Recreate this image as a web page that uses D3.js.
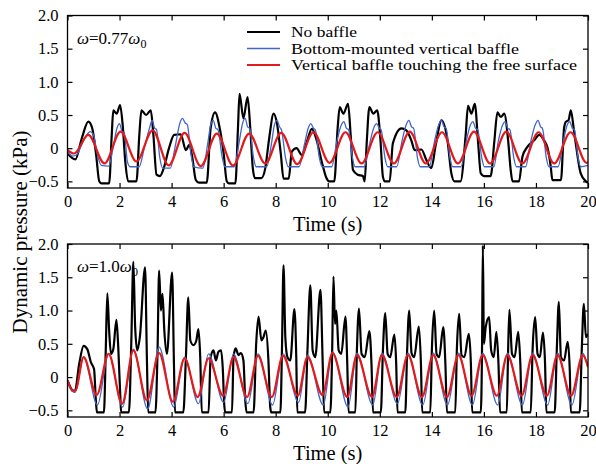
<!DOCTYPE html>
<html>
<head>
<meta charset="utf-8">
<script src="https://cdn.jsdelivr.net/npm/d3@7"></script>
<style>
  body { margin: 0; background: #fff; }
  text { font-family: "Liberation Serif", "Times New Roman", serif; fill: #000; }
</style>
</head>
<body>
<div id="chart-area"></div>
<script>

// tick values
const timeTicks = [0, 2, 4, 6, 8, 10, 12, 14, 16, 18, 20];
const pressureTicks = [-0.5, 0, 0.5, 1.0, 1.5, 2.0];

const seriesNames = [
  'No baffle',
  'Bottom-mounted vertical baffle',
  'Vertical baffle touching the free surface'
];

// omega = 0.77 omega0 : [time (s), pressure (kPa)]
const topNoBaffle = [
  [0,-0.08],[0.3,-0.17],[0.55,0.15],[0.8,0.4],[0.95,0.3],[1.1,-0.1],[1.22,-0.5],[1.3,-0.53],[1.6,-0.53],
  [1.7,0.2],[1.76,0.57],[1.89,0.52],[2.02,0.65],[2.12,0.35],[2.22,-0.2],[2.33,-0.5],[2.65,-0.5],
  [2.76,0.2],[2.84,0.57],[3.02,0.5],[3.2,0.57],[3.3,0.2],[3.42,-0.4],[3.55,-0.42],[3.7,-0.3],[3.9,0.0],
  [4.1,0.2],[4.35,0.21],[4.55,-0.03],[4.68,0.05],[4.8,-0.15],[4.93,-0.48],[5.05,-0.52],[5.35,-0.52],
  [5.5,0.3],[5.67,0.54],[5.85,0.3],[6.0,-0.08],[6.12,-0.5],[6.2,-0.53],[6.45,-0.53],[6.55,0.3],
  [6.61,0.82],[6.76,0.45],[6.92,0.77],[7.02,0.32],[7.12,-0.3],[7.2,-0.45],[7.45,-0.45],[7.6,-0.3],
  [7.75,0.15],[7.92,0.52],[8.05,0.37],[8.2,-0.1],[8.3,-0.46],[8.5,-0.46],[8.62,-0.05],[8.8,0.0],
  [9.0,-0.1],[9.2,0.1],[9.39,0.29],[9.55,0.15],[9.8,-0.25],[9.95,-0.45],[10.05,-0.5],[10.25,-0.5],
  [10.38,0.3],[10.46,0.62],[10.6,0.52],[10.78,0.67],[10.88,0.2],[10.97,-0.33],[11.15,-0.4],[11.35,-0.42],
  [11.42,-0.5],[11.5,0.1],[11.6,0.62],[11.75,0.52],[11.9,0.57],[12.02,0.15],[12.12,-0.43],[12.2,-0.5],
  [12.38,-0.5],[12.5,0.07],[12.83,0.3],[13.02,0.27],[13.21,0.12],[13.34,-0.03],[13.6,-0.02],[13.79,-0.18],
  [13.98,-0.3],[14.15,0.05],[14.37,0.42],[14.6,0.12],[14.75,-0.38],[14.87,-0.5],[15.1,-0.5],[15.3,0.2],
  [15.39,0.64],[15.52,0.52],[15.65,0.67],[15.78,0.07],[15.88,-0.38],[16.0,-0.42],[16.26,-0.42],[16.4,0.1],
  [16.52,0.54],[16.65,0.47],[16.78,0.52],[16.93,0.12],[17.03,-0.33],[17.1,-0.5],[17.35,-0.5],[17.48,-0.13],
  [17.67,0.02],[17.93,0.12],[18.12,0.2],[18.31,0.12],[18.45,0.0],[18.57,-0.28],[18.63,-0.48],[18.96,-0.48],
  [19.08,0.3],[19.15,0.4],[19.25,0.42],[19.34,0.57],[19.45,0.3],[19.53,0.07],[19.72,-0.38],[19.92,-0.5],[20,-0.52]
];

const topBottomBaffle = [
  [0,-0.05],[0.2,-0.12],[0.35,-0.1],[0.6,0.1],[0.87,0.25],[1.0,0.2],[1.15,-0.1],[1.3,-0.26],[1.58,-0.27],
  [1.75,0.0],[1.9,0.3],[2.0,0.37],[2.1,0.25],[2.18,0.24],[2.3,-0.2],[2.4,-0.28],[2.75,-0.28],[2.95,0.0],
  [3.15,0.3],[3.25,0.42],[3.35,0.3],[3.42,0.28],[3.55,-0.15],[3.65,-0.3],[3.95,-0.3],[4.15,0.05],
  [4.32,0.38],[4.42,0.45],[4.52,0.38],[4.6,0.36],[4.75,-0.1],[4.85,-0.28],[5.2,-0.3],[5.4,0.1],
  [5.5,0.35],[5.6,0.42],[5.7,0.3],[5.78,0.28],[5.95,-0.15],[6.05,-0.28],[6.4,-0.28],[6.6,0.1],
  [6.73,0.38],[6.83,0.45],[6.92,0.32],[7.0,0.3],[7.15,-0.15],[7.25,-0.28],[7.65,-0.28],[7.85,0.1],
  [7.95,0.35],[8.05,0.42],[8.15,0.32],[8.22,0.28],[8.38,-0.15],[8.48,-0.28],[8.9,-0.28],[9.1,0.05],
  [9.25,0.3],[9.35,0.37],[9.45,0.3],[9.52,0.28],[9.68,-0.15],[9.78,-0.28],[10.15,-0.28],[10.35,0.1],
  [10.52,0.35],[10.62,0.4],[10.72,0.3],[10.8,0.28],[10.95,-0.15],[11.05,-0.28],[11.4,-0.28],[11.6,0.05],
  [11.78,0.32],[11.88,0.37],[11.98,0.3],[12.05,0.28],[12.2,-0.15],[12.3,-0.28],[12.65,-0.28],[12.85,0.1],
  [13.02,0.36],[13.12,0.42],[13.22,0.32],[13.3,0.3],[13.45,-0.15],[13.55,-0.28],[13.9,-0.28],[14.1,0.1],
  [14.27,0.36],[14.37,0.42],[14.47,0.32],[14.55,0.3],[14.7,-0.15],[14.8,-0.28],[15.12,-0.28],[15.32,0.1],
  [15.48,0.35],[15.58,0.4],[15.68,0.3],[15.76,0.28],[15.92,-0.15],[16.02,-0.28],[16.38,-0.28],[16.55,0.1],
  [16.72,0.35],[16.82,0.4],[16.92,0.3],[17.0,0.28],[17.15,-0.15],[17.25,-0.28],[17.6,-0.28],[17.8,0.1],
  [17.98,0.36],[18.08,0.42],[18.18,0.32],[18.25,0.3],[18.4,-0.15],[18.5,-0.28],[18.85,-0.28],[19.05,0.1],
  [19.2,0.35],[19.3,0.4],[19.4,0.3],[19.48,0.28],[19.62,-0.15],[19.72,-0.28],[20,-0.26]
];

const topSurfaceBaffle = [
  [0,-0.03],[0.25,-0.08],[0.8,0.2],[1.42,-0.23],[2.04,0.25],[2.65,-0.2],[3.27,0.27],[3.89,-0.26],
  [4.5,0.23],[5.12,-0.27],[5.74,0.22],[6.36,-0.26],[6.98,0.22],[7.6,-0.23],[8.21,0.23],[8.83,-0.24],
  [9.45,0.24],[10.07,-0.22],[10.68,0.24],[11.3,-0.23],[11.92,0.24],[12.54,-0.23],[13.15,0.25],[13.77,-0.23],
  [14.39,0.24],[15.0,-0.23],[15.62,0.25],[16.24,-0.23],[16.86,0.25],[17.48,-0.23],[18.1,0.24],[18.7,-0.23],
  [19.33,0.24],[19.95,-0.22],[20,-0.21]
];

// omega = 1.0 omega0 : [time (s), pressure (kPa)]
const bottomNoBaffle = [
  [0,-0.05],[0.15,-0.18],[0.28,-0.22],[0.45,0.2],[0.62,0.47],[0.76,0.42],[0.9,0.22],[1.02,0.12],[1.09,-0.35],
  [1.13,-0.53],[1.4,-0.53],[1.47,0.4],[1.53,1.26],[1.6,0.7],[1.67,0.35],[1.76,0.42],[1.88,0.86],[1.95,0.45],
  [2.03,-0.3],[2.06,-0.53],[2.36,-0.53],[2.45,0.5],[2.53,1.73],[2.6,0.75],[2.68,0.4],[2.78,0.6],[2.98,1.65],
  [3.05,0.3],[3.1,-0.53],[3.38,-0.53],[3.46,0.4],[3.52,1.6],[3.59,1.0],[3.65,1.25],[3.72,0.7],[3.82,0.35],
  [4.02,1.57],[4.09,0.2],[4.13,-0.53],[4.45,-0.53],[4.55,0.3],[4.64,1.2],[4.72,0.55],[4.84,0.48],[4.95,0.55],
  [5.03,0.72],[5.1,0.3],[5.16,-0.53],[5.42,-0.53],[5.5,0.3],[5.61,0.4],[5.7,0.25],[5.8,0.38],[5.9,0.4],
  [5.97,0.1],[6.02,-0.4],[6.06,-0.53],[6.32,-0.53],[6.38,0.3],[6.46,0.43],[6.57,0.33],[6.66,0.36],[6.76,0.25],
  [6.83,-0.35],[6.88,-0.53],[7.15,-0.53],[7.25,0.5],[7.34,0.91],[7.45,0.55],[7.53,0.6],[7.62,0.7],[7.72,0.25],
  [7.79,-0.45],[7.83,-0.53],[8.18,-0.53],[8.24,0.4],[8.3,1.68],[8.37,0.6],[8.45,0.3],[8.56,0.25],[8.72,1.02],
  [8.79,0.3],[8.83,-0.53],[9.13,-0.53],[9.22,0.4],[9.33,1.38],[9.42,0.4],[9.52,0.3],[9.72,1.31],[9.8,0.3],
  [9.86,-0.53],[10.1,-0.53],[10.17,0.4],[10.22,1.51],[10.28,0.8],[10.33,1.0],[10.42,0.4],[10.52,0.35],[10.68,0.91],
  [10.75,0.2],[10.8,-0.53],[11.06,-0.53],[11.12,0.4],[11.2,1.03],[11.3,0.35],[11.42,0.3],[11.6,0.69],[11.68,0.2],
  [11.74,-0.53],[12.04,-0.53],[12.12,0.4],[12.21,0.96],[12.3,0.35],[12.4,0.3],[12.56,0.64],[12.63,0.2],[12.68,-0.53],
  [12.98,-0.53],[13.05,0.4],[13.13,1.0],[13.22,0.36],[13.32,0.3],[13.5,0.76],[13.58,0.2],[13.63,-0.53],[13.94,-0.53],
  [14.0,0.4],[14.09,1.0],[14.18,0.35],[14.28,0.3],[14.44,0.75],[14.52,0.2],[14.58,-0.53],[14.9,-0.53],[14.96,0.4],
  [15.05,0.95],[15.14,0.33],[15.25,0.3],[15.42,0.65],[15.5,0.2],[15.55,-0.53],[15.88,-0.53],[15.93,0.5],[15.96,1.98],
  [16.0,0.5],[16.07,0.75],[16.2,0.9],[16.28,0.4],[16.38,0.3],[16.48,0.68],[16.56,0.2],[16.62,-0.53],[16.88,-0.53],
  [16.93,0.4],[16.98,1.01],[17.08,0.35],[17.18,0.3],[17.32,0.68],[17.4,0.2],[17.46,-0.53],[17.8,-0.53],[17.87,0.4],
  [17.97,0.9],[18.06,0.35],[18.15,0.3],[18.27,0.67],[18.35,0.2],[18.4,-0.53],[18.72,-0.53],[18.8,0.4],[18.88,1.13],
  [18.96,0.3],[19.08,0.25],[19.22,0.53],[19.3,0.1],[19.34,-0.53],[19.68,-0.53],[19.76,0.4],[19.84,1.1],[19.92,0.6],[20,0.65]
];

const bottomBottomBaffle = [
  [0,-0.05],[0.2,-0.22],[0.3,-0.22],[0.62,0.3],[1.15,-0.42],[1.58,0.35],[2.12,-0.45],[2.53,0.42],[3.08,-0.48],
  [3.52,0.45],[4.08,-0.45],[4.5,0.3],[5.03,-0.4],[5.42,0.35],[6.0,-0.38],[6.38,0.35],[6.93,-0.4],[7.32,0.35],
  [7.88,-0.42],[8.28,0.35],[8.88,-0.38],[9.22,0.33],[9.83,-0.42],[10.18,0.38],[10.78,-0.45],[11.12,0.36],
  [11.73,-0.42],[12.08,0.36],[12.68,-0.4],[13.08,0.36],[13.65,-0.42],[14.05,0.36],[14.6,-0.42],[15.02,0.36],
  [15.56,-0.42],[15.95,0.36],[16.53,-0.42],[16.9,0.36],[17.48,-0.42],[17.87,0.36],[18.45,-0.42],[18.83,0.36],
  [19.38,-0.42],[19.8,0.36],[20,0.15]
];

const bottomSurfaceBaffle = [
  [0,-0.05],[0.2,-0.2],[0.3,-0.2],[0.62,0.3],[1.12,-0.27],[1.58,0.35],[2.1,-0.4],[2.53,0.4],[3.05,-0.35],
  [3.52,0.36],[4.05,-0.37],[4.5,0.28],[5.0,-0.3],[5.42,0.28],[5.98,-0.28],[6.38,0.3],[6.9,-0.3],[7.32,0.32],
  [7.85,-0.3],[8.28,0.32],[8.85,-0.28],[9.22,0.3],[9.8,-0.27],[10.18,0.36],[10.75,-0.3],[11.12,0.33],
  [11.7,-0.3],[12.08,0.33],[12.65,-0.3],[13.08,0.33],[13.62,-0.3],[14.05,0.33],[14.58,-0.3],[15.02,0.33],
  [15.53,-0.28],[15.95,0.33],[16.5,-0.28],[16.9,0.33],[17.45,-0.28],[17.87,0.33],[18.42,-0.28],[18.83,0.33],
  [19.35,-0.28],[19.8,0.33],[20,0.15]
];

const colors = ['#000000', '#4066c8', '#e31a1c'];
const strokeWidths = [2.2, 1.3, 2.2];
const legendWidths = [66, 228, 286];

const svgWidth = 596;
const svgHeight = 464;

const plotLeft = 67.5;
const plotRight = 588;

const svg = d3.select('#chart-area').append('svg')
  .attr('width', svgWidth)
  .attr('height', svgHeight);

svg.append('rect')
  .attr('width', svgWidth)
  .attr('height', svgHeight)
  .attr('fill', '#fff');

const x = d3.scaleLinear()
  .domain([0, 20])
  .range([plotLeft, plotRight]);

function drawPanel(top, bottom, series, omegaText) {
  const y = d3.scaleLinear()
    .domain([-0.6, 2.0])
    .range([bottom, top]);

  const g = svg.append('g');

  const line = d3.line()
    .x(d => x(d[0]))
    .y(d => y(d[1]))
    .curve(d3.curveMonotoneX);

  const clipId = 'clip' + Math.round(top);
  g.append('clipPath')
    .attr('id', clipId)
    .append('rect')
      .attr('x', plotLeft)
      .attr('y', top)
      .attr('width', plotRight - plotLeft)
      .attr('height', bottom - top);

  g.append('g')
    .attr('clip-path', `url(#${clipId})`)
    .selectAll('path')
    .data(series)
    .enter()
    .append('path')
      .attr('d', d => line(d))
      .attr('fill', 'none')
      .attr('stroke', (d, i) => colors[i])
      .attr('stroke-width', (d, i) => strokeWidths[i])
      .attr('stroke-linejoin', 'round');

  // axes, ticks pointing inward
  const xAxisCall = d3.axisBottom(x)
    .tickValues(timeTicks)
    .tickSize(-5)
    .tickPadding(7)
    .tickFormat(d3.format('d'));
  g.append('g')
    .attr('transform', `translate(0, ${bottom})`)
    .call(xAxisCall);

  g.append('g')
    .attr('transform', `translate(0, ${top})`)
    .call(d3.axisTop(x).tickValues(timeTicks).tickSize(-5).tickFormat(''));

  const yAxisCall = d3.axisLeft(y)
    .tickValues(pressureTicks)
    .tickSize(-5)
    .tickPadding(9)
    .tickFormat(d => d === 0 ? '0' : d3.format('.1f')(d));
  g.append('g')
    .attr('transform', `translate(${plotLeft}, 0)`)
    .call(yAxisCall);

  g.append('g')
    .attr('transform', `translate(${plotRight}, 0)`)
    .call(d3.axisRight(y).tickValues(pressureTicks).tickSize(-5).tickFormat(''));

  g.selectAll('.domain').remove();
  g.selectAll('.tick line').attr('stroke', '#000').attr('stroke-width', 1.2);
  g.selectAll('.tick text')
    .attr('font-size', '16.5px')
    .attr('font-family', '"Liberation Serif", serif')
    .attr('fill', '#000');

  g.append('rect')
    .attr('x', plotLeft)
    .attr('y', top)
    .attr('width', plotRight - plotLeft)
    .attr('height', bottom - top)
    .attr('fill', 'none')
    .attr('stroke', '#000')
    .attr('stroke-width', 1.3);

  // X label
  g.append('text')
    .attr('x', (plotLeft + plotRight) / 2)
    .attr('y', bottom + 43)
    .attr('font-size', '20.5px')
    .attr('text-anchor', 'middle')
    .text('Time (s)');

  // omega label
  const om = g.append('text')
    .attr('x', 77)
    .attr('y', top + 28)
    .attr('font-size', '17px');
  om.append('tspan').attr('font-style', 'italic').text('ω');
  om.append('tspan').text('=' + omegaText);
  om.append('tspan').attr('font-style', 'italic').text('ω');
  om.append('tspan').attr('font-size', '12px').attr('dy', 4).text('0');

  return y;
}

drawPanel(15.5, 188, [topNoBaffle, topBottomBaffle, topSurfaceBaffle], '0.77');
drawPanel(244, 417, [bottomNoBaffle, bottomBottomBaffle, bottomSurfaceBaffle], '1.0');

// Legend
const legend = svg.append('g')
  .attr('transform', 'translate(247, 32)');

seriesNames.forEach((name, i) => {
  legend.append('line')
    .attr('x1', 0)
    .attr('x2', 33)
    .attr('y1', i * 16.5)
    .attr('y2', i * 16.5)
    .attr('stroke', colors[i])
    .attr('stroke-width', strokeWidths[i]);
  legend.append('text')
    .attr('x', 44)
    .attr('y', i * 16.5 + 5)
    .attr('font-size', '15.5px')
    .attr('textLength', legendWidths[i])
    .attr('lengthAdjust', 'spacingAndGlyphs')
    .text(name);
});

// Y label
svg.append('text')
  .attr('transform', 'translate(27, 232) rotate(-90)')
  .attr('font-size', '21px')
  .attr('text-anchor', 'middle')
  .text('Dynamic pressure (kPa)');

</script>
</body>
</html>
